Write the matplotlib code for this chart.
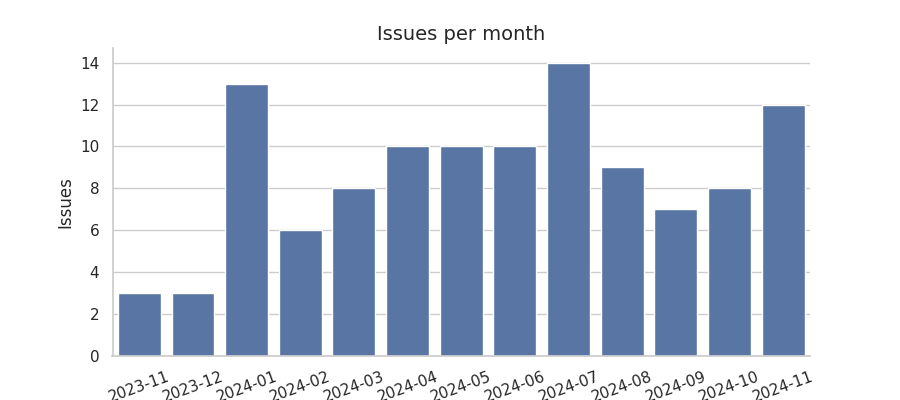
import matplotlib
matplotlib.use("Agg")
import matplotlib.pyplot as plt
import seaborn as sns
import pandas as pd

months = ["2023-11", "2023-12", "2024-01", "2024-02", "2024-03", "2024-04",
          "2024-05", "2024-06", "2024-07", "2024-08", "2024-09", "2024-10",
          "2024-11"]
issues = [3, 3, 13, 6, 8, 10, 10, 10, 14, 9, 7, 8, 12]

sns.set_theme(style="whitegrid")
plt.rcParams["font.family"] = ["DejaVu Sans"]

df = pd.DataFrame({"month": months, "issues": issues})

fig, ax = plt.subplots(figsize=(9, 4), dpi=100)
sns.barplot(data=df, x="month", y="issues", color="#4c72b0", ax=ax)
ax.set_title("Issues per month", fontsize=14)
ax.set_xlabel("")
ax.set_ylabel("Issues", fontsize=12)
ax.tick_params(axis="x", rotation=20)
sns.despine(ax=ax)
fig.savefig("out.png", dpi=100)
